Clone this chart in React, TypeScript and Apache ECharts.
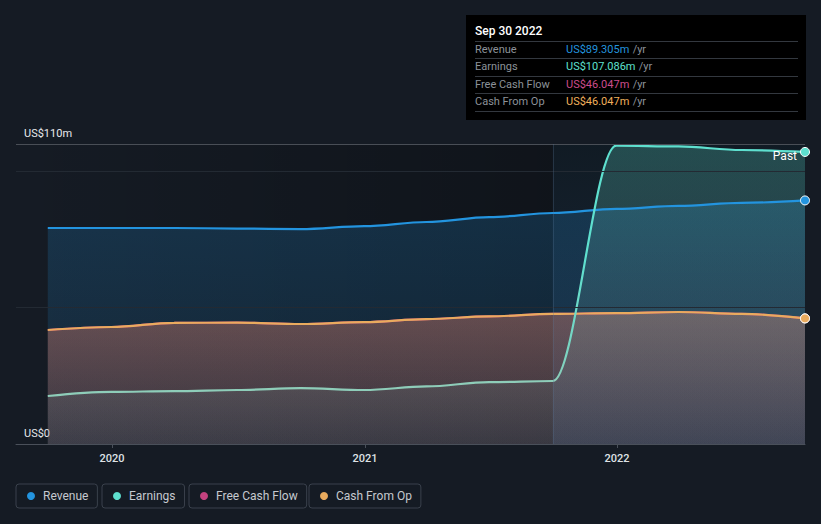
import React, { useEffect, useRef } from "react";
import * as echarts from "echarts";

const quarters = [
  "2019-09-30", "2019-12-31", "2020-03-31", "2020-06-30", "2020-09-30",
  "2020-12-31", "2021-03-31", "2021-06-30", "2021-09-30", "2021-12-31",
  "2022-03-31", "2022-06-30", "2022-09-30",
];
const revenue = [79.2, 79.2, 79.2, 79.0, 78.8, 79.9, 81.4, 83.2, 84.7, 86.2, 87.3, 88.4, 89.305];
const earnings = [17.6, 19.1, 19.4, 19.8, 20.5, 19.8, 21.1, 22.7, 23.1, 109.4, 109.1, 107.8, 107.086];
const freeCashFlow = [41.8, 42.9, 44.4, 44.5, 44.0, 44.7, 45.8, 46.8, 47.7, 48.0, 48.4, 47.7, 46.047];
const cashFromOp = [41.8, 42.9, 44.4, 44.5, 44.0, 44.7, 45.8, 46.8, 47.7, 48.0, 48.4, 47.7, 46.047];
const yTicks = [0, 110];
const xTickYears = [2020, 2021, 2022];
const tooltipDate = "Sep 30 2022";
const pastLabel = "Past";

const ts = (s: string) => Date.parse(s + "T00:00:00Z");
const X_MIN = ts("2019-08-15");
const X_MAX = ts("2022-09-30");
const SPLIT_DATE = ts("2021-09-30");
const FONT = "Roboto, 'Open Sans', sans-serif";
const SMOOTH = 0.35;

const seriesDefs = [
  { name: "Revenue", values: revenue, color: "#2394df", top: "rgba(35,148,223,0.30)", bottom: "rgba(35,148,223,0.14)" },
  { name: "Free Cash Flow", values: freeCashFlow, color: "#c4427f", top: "rgba(196,66,127,0.32)", bottom: "rgba(196,66,127,0.12)" },
  { name: "Cash From Op", values: cashFromOp, color: "#e9ab5e", top: "rgba(233,171,94,0.34)", bottom: "rgba(233,171,94,0.12)" },
  { name: "Earnings", values: earnings, color: "#5ee0cf", top: "rgba(94,224,207,0.36)", bottom: "rgba(160,190,195,0.10)" },
];
const legendOrder = ["Revenue", "Earnings", "Free Cash Flow", "Cash From Op"];

const lg = (x1: number, y1: number, x2: number, y2: number, stops: [number, string][]) =>
  new echarts.graphic.LinearGradient(x1, y1, x2, y2, stops.map(([offset, color]) => ({ offset, color })));

function buildOption() {
  const series: any[] = [];
  series.push({
    type: "line",
    name: "__grid",
    data: [[X_MIN, 0]],
    symbol: "none",
    lineStyle: { opacity: 0 },
    z: 0,
    silent: true,
    markLine: {
      silent: true,
      symbol: ["none", "none"],
      label: { show: false },
      lineStyle: { type: "solid", width: 1, color: "#232a33" },
      data: [
        { yAxis: 50 },
        { yAxis: 100 },
        { yAxis: 110, lineStyle: { color: "#494e56", type: "solid", width: 1 } },
      ],
    },
  });
  seriesDefs.forEach((d) => {
    series.push({
      type: "line",
      name: d.name,
      data: d.values.map((v, i) => [ts(quarters[i]), v]),
      smooth: SMOOTH,
      smoothMonotone: "x",
      symbol: "none",
      color: d.color,
      lineStyle: { width: 0 },
      areaStyle: { color: lg(0, 0, 0, 1, [[0, d.top], [1, d.bottom]]) },
      z: 1,
      silent: true,
    });
  });
  series.push({
    type: "line",
    name: "__overlay",
    data: [[X_MIN, 0]],
    symbol: "none",
    lineStyle: { opacity: 0 },
    z: 2,
    silent: true,
    markArea: {
      silent: true,
      data: [
        [
          { xAxis: X_MIN, itemStyle: { color: lg(0, 0, 1, 0, [[0, "rgba(0,0,0,0)"], [1, "rgba(0,0,0,0.27)"]]) } },
          { xAxis: SPLIT_DATE },
        ],
        [
          { xAxis: SPLIT_DATE, itemStyle: { color: lg(0, 0, 0, 1, [[0, "rgba(0,26,36,0.22)"], [1, "rgba(50,90,140,0.18)"]]) } },
          { xAxis: X_MAX },
        ],
      ],
    },
    markLine: {
      silent: true,
      symbol: ["none", "none"],
      label: { show: false },
      lineStyle: { type: "solid", width: 1, color: "rgba(90,120,150,0.28)" },
      data: [{ xAxis: SPLIT_DATE }],
    },
  });
  seriesDefs.forEach((d) => {
    const n = d.values.length;
    const lineColor =
      d.name === "Earnings"
        ? lg(0, 0, 1, 0, [[0, "#8ecdb9"], [0.67, "#8ecdb9"], [0.71, "#5ee0cf"], [1, "#5ee0cf"]])
        : d.color;
    series.push({
      type: "line",
      name: d.name,
      data: d.values.map((v, i) =>
        i === n - 1
          ? { value: [ts(quarters[i]), v], symbol: "circle", symbolSize: 9, itemStyle: { color: d.color, borderColor: "#ffffff", borderWidth: 1 } }
          : { value: [ts(quarters[i]), v] }
      ),
      smooth: SMOOTH,
      smoothMonotone: "x",
      symbol: "none",
      showSymbol: true,
      showAllSymbol: true,
      color: d.color,
      lineStyle: { width: 2.2, color: lineColor },
      z: 3,
      silent: true,
    });
  });

  const legendStarts = [16, 102, 189, 309];
  const legends = legendOrder.map((name, i) => ({
    data: [name],
    left: legendStarts[i],
    top: 484,
    icon: "circle",
    itemWidth: 8,
    itemHeight: 8,
    padding: [6, 9, 6, 11],
    borderColor: "#3a414c",
    borderWidth: 1,
    borderRadius: 3,
    selectedMode: false,
    textStyle: { color: "#c5c9cf", fontSize: 12, fontFamily: FONT, padding: [0, 0, 0, 3] },
  }));

  const ttRows = [
    { label: "Revenue", value: revenue[revenue.length - 1], color: "#2394df" },
    { label: "Earnings", value: earnings[earnings.length - 1], color: "#5ee0cf" },
    { label: "Free Cash Flow", value: freeCashFlow[freeCashFlow.length - 1], color: "#cc4c8c" },
    { label: "Cash From Op", value: cashFromOp[cashFromOp.length - 1], color: "#f0b05c" },
  ];
  const rowY = [49, 66.5, 84, 101.5];
  const sepY = [41, 58, 76, 93, 111];
  const graphic: any[] = [
    { type: "rect", shape: { x: 466, y: 15, width: 340, height: 105 }, style: { fill: "#000000" }, z: 10 },
    { type: "text", x: 475, y: 31, z: 11, style: { text: tooltipDate, fill: "#ffffff", font: `500 12px ${FONT}`, textVerticalAlign: "middle" } },
    ...sepY.map((y) => ({ type: "line", z: 11, shape: { x1: 475, y1: y + 0.5, x2: 798, y2: y + 0.5 }, style: { stroke: "#33383f", lineWidth: 1 } })),
    ...ttRows.map((r, i) => ({ type: "text", x: 475, y: rowY[i], z: 11, style: { text: r.label, fill: "#8c9299", font: `11px ${FONT}`, textVerticalAlign: "middle" } })),
    ...ttRows.map((r, i) => ({
      type: "text",
      x: 566,
      y: rowY[i],
      z: 11,
      style: {
        text: `{v|US$${r.value.toFixed(3)}m} {u|/yr}`,
        textVerticalAlign: "middle",
        rich: {
          v: { fill: r.color, font: `11px ${FONT}` },
          u: { fill: "#8c9299", font: `11px ${FONT}` },
        },
      },
    })),
    { type: "text", x: 797, y: 156, z: 11, style: { text: pastLabel, fill: "#ffffff", font: `12px ${FONT}`, textAlign: "right", textVerticalAlign: "middle" } },
  ];

  const yearTicks = xTickYears.map((y) => ts(`${y}-01-01`));

  return {
    animation: false,
    backgroundColor: "#151b24",
    textStyle: { fontFamily: FONT },
    grid: { left: 16, right: 16, top: 144, bottom: 80, containLabel: false },
    xAxis: {
      type: "value",
      min: X_MIN,
      max: X_MAX,
      splitLine: { show: false },
      axisLine: { lineStyle: { color: "#4a505a" } },
      axisTick: {
        show: true,
        length: 4,
        lineStyle: { color: "#4a505a" },
        customValues: yearTicks,
      },
      axisLabel: {
        color: "#dfe2e6",
        fontSize: 11,
        fontWeight: 500,
        margin: 9,
        customValues: yearTicks,
        formatter: (v: number) => String(new Date(v).getUTCFullYear()),
      },
    },
    yAxis: {
      type: "value",
      min: 0,
      max: 110,
      interval: 110,
      splitLine: { show: false },
      axisLine: { show: false },
      axisTick: { show: false },
      axisLabel: {
        inside: true,
        margin: 8,
        color: "#e8eaed",
        fontSize: 11,
        verticalAlign: "bottom",
        padding: [0, 0, 5, 0],
        customValues: yTicks,
        formatter: (v: number) => (v === 0 ? "US$0" : `US$${v}m`),
      },
    },
    legend: legends,
    graphic,
    series,
  };
}

export default function App() {
  const ref = useRef<HTMLDivElement>(null);
  useEffect(() => {
    if (!ref.current) return;
    const chart = echarts.init(ref.current, null, { renderer: "svg" });
    chart.setOption(buildOption() as any);
    return () => chart.dispose();
  }, []);
  return (
    <div
      ref={ref}
      style={{ position: "fixed", left: 0, top: 0, width: 821, height: 524, background: "#151b24" }}
    />
  );
}
